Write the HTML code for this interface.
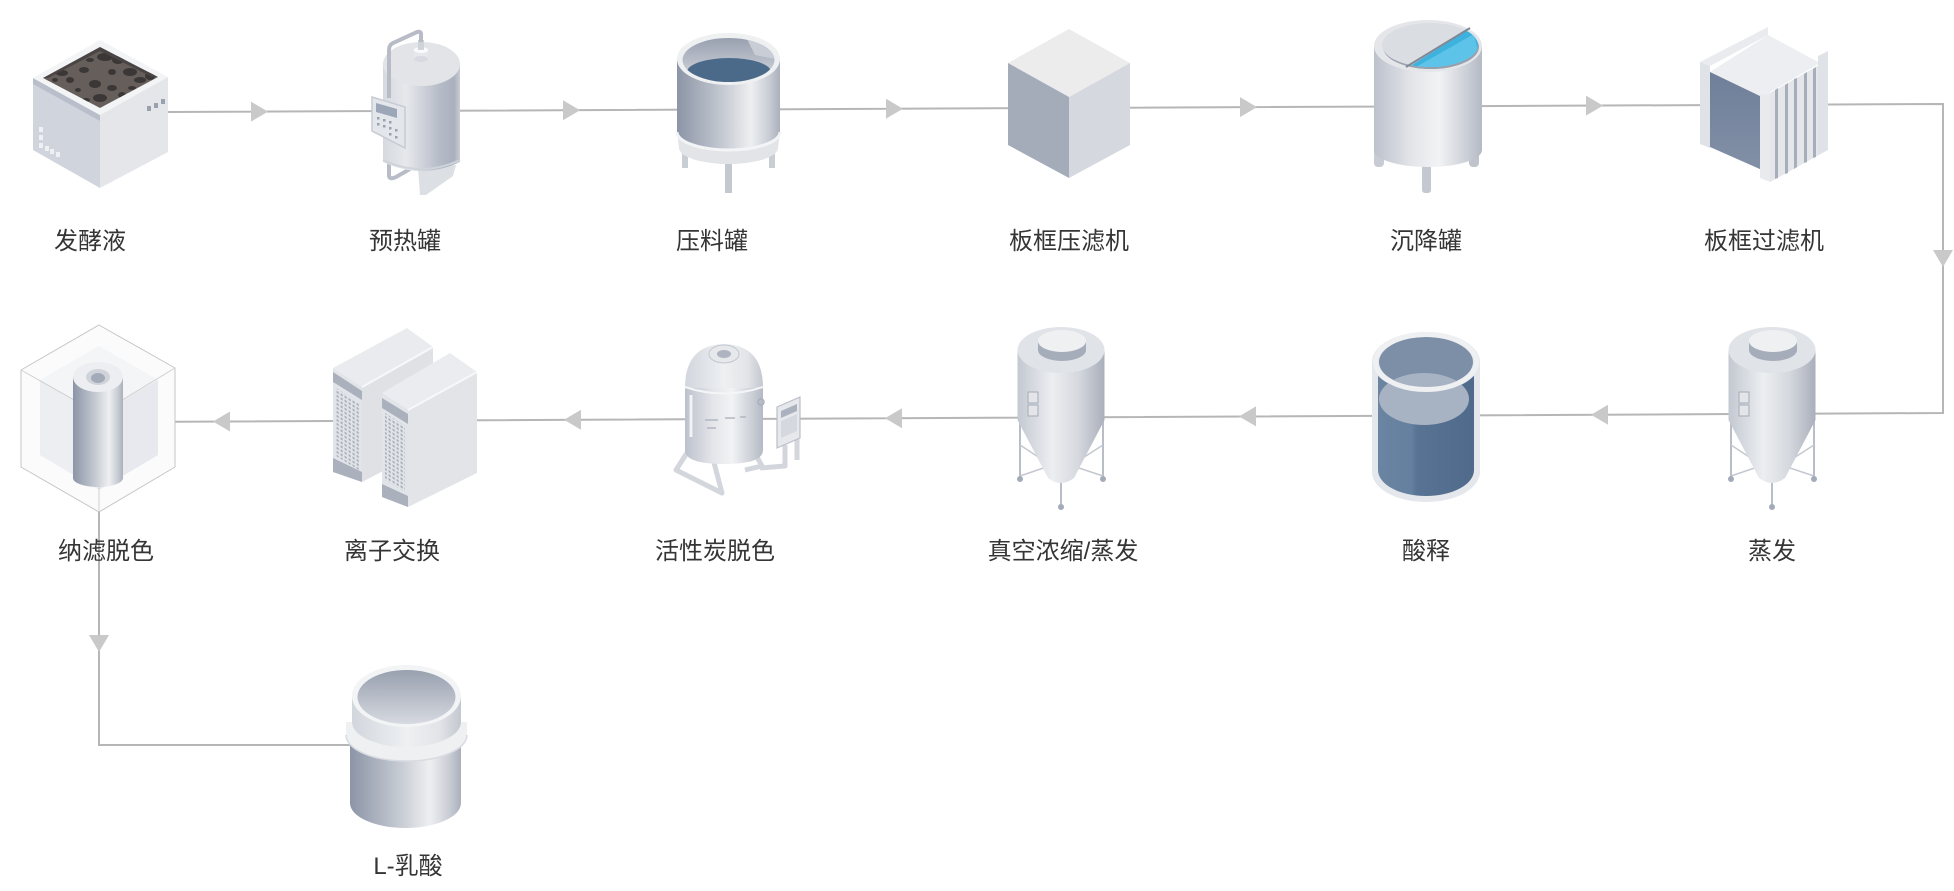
<!DOCTYPE html>
<html><head><meta charset="utf-8"><style>
html,body{margin:0;padding:0;background:#fff;}
svg{display:block;}
text{font-family:"Liberation Sans","Noto Sans CJK SC",sans-serif;font-size:24px;fill:#353535;text-anchor:middle;}
</style></head><body>
<svg width="1954" height="891" viewBox="0 0 1954 891" xmlns="http://www.w3.org/2000/svg">
<defs>
<linearGradient id="gM" x1="0" x2="1" y1="0" y2="0">
<stop offset="0" stop-color="#bcc1cc"/><stop offset="0.35" stop-color="#e3e5e9"/><stop offset="0.6" stop-color="#f2f3f5"/><stop offset="0.85" stop-color="#ccd0d7"/><stop offset="1" stop-color="#b4b9c4"/>
</linearGradient>
<linearGradient id="gD" x1="0" x2="1" y1="0" y2="0">
<stop offset="0" stop-color="#8c95a7"/><stop offset="0.45" stop-color="#c6cbd3"/><stop offset="0.72" stop-color="#eeeff1"/><stop offset="0.9" stop-color="#c7cbd3"/><stop offset="1" stop-color="#aab0bc"/>
</linearGradient>
<linearGradient id="gT" x1="0" x2="1" y1="0" y2="0">
<stop offset="0" stop-color="#d6d9df"/><stop offset="0.3" stop-color="#e6e8ec"/><stop offset="0.75" stop-color="#b4bac6"/><stop offset="0.92" stop-color="#aab0bd"/><stop offset="1" stop-color="#c8ccd4"/>
</linearGradient>
<linearGradient id="gS" x1="0" x2="1" y1="0" y2="0">
<stop offset="0" stop-color="#c3c8d1"/><stop offset="0.4" stop-color="#eceef1"/><stop offset="0.7" stop-color="#d5d8de"/><stop offset="1" stop-color="#a9afbb"/>
</linearGradient>
<linearGradient id="gL" x1="0" x2="1" y1="0" y2="0">
<stop offset="0" stop-color="#d2d6dd"/><stop offset="0.5" stop-color="#eef0f2"/><stop offset="0.8" stop-color="#e2e4e8"/><stop offset="1" stop-color="#c3c7cf"/>
</linearGradient>
<linearGradient id="gIn" x1="0" x2="0" y1="0" y2="1">
<stop offset="0" stop-color="#98a0af"/><stop offset="1" stop-color="#d6d9e0"/>
</linearGradient>
<linearGradient id="gBlue" x1="0" x2="1" y1="0" y2="0">
<stop offset="0" stop-color="#6a84a1"/><stop offset="0.35" stop-color="#6580a0"/><stop offset="0.4" stop-color="#587393"/><stop offset="1" stop-color="#4f6a8a"/>
</linearGradient>
<linearGradient id="gFace" x1="0" x2="0" y1="0" y2="1">
<stop offset="0" stop-color="#6f7f99"/><stop offset="1" stop-color="#8290a7"/>
</linearGradient>
<pattern id="dots" width="4" height="4" patternUnits="userSpaceOnUse" patternTransform="skewY(31)">
<rect x="0.5" y="0.5" width="2.2" height="2.2" fill="#aab0bc"/>
</pattern>
<clipPath id="c1"><polygon points="100,47 158,77 100,108 43,78"/></clipPath>
<clipPath id="c2"><ellipse cx="728.5" cy="60" rx="46" ry="22"/></clipPath>
<clipPath id="c3"><ellipse cx="1430" cy="45" rx="48" ry="22"/></clipPath>
<clipPath id="c4"><path d="M1378,362 L1378,470 A48,26 0 0 0 1474,470 L1474,362 Z"/></clipPath>
</defs>

<!-- connectors -->
<g fill="none" stroke="#b6b6b6" stroke-width="2">
<polyline points="168,112 1943,104 1943,413 123,422"/>
<polyline points="99,485 99,745 350,745"/>
</g>
<g fill="#c9c9c9">
<polygon points="251,101.6 268,111.6 251,121.6"/>
<polygon points="563,100.2 580,110.2 563,120.2"/>
<polygon points="886,98.7 903,108.7 886,118.7"/>
<polygon points="1240,97.1 1257,107.1 1240,117.1"/>
<polygon points="1586,95.6 1603,105.6 1586,115.6"/>
<polygon points="1933,250 1953,250 1943,267"/>
<polygon points="1608,404.7 1591,414.7 1608,424.7"/>
<polygon points="1256,406.4 1239,416.4 1256,426.4"/>
<polygon points="902,408.2 885,418.2 902,428.2"/>
<polygon points="581,409.8 564,419.8 581,429.8"/>
<polygon points="230,411.5 213,421.5 230,431.5"/>
<polygon points="89,635 109,635 99,652"/>
</g>

<!-- 发酵液 -->
<polygon points="33,78 100,115 100,188 33,150" fill="#d0d4dc"/>
<polygon points="33,78 100,115 100,121 33,84" fill="#b9bfca"/>
<polygon points="100,115 168,77 168,152 100,188" fill="#e4e6ea"/>
<polygon points="100,40 168,77 100,115 33,78" fill="#f3f4f6"/>
<polygon points="100,47 158,77 100,108 43,78" fill="#665e5a"/>
<g clip-path="url(#c1)" fill="#3b3737">
<ellipse cx="105" cy="57" rx="8" ry="4"/><ellipse cx="118" cy="60" rx="6" ry="4"/>
<ellipse cx="84" cy="70" rx="5" ry="3"/><ellipse cx="130" cy="72" rx="7" ry="4"/>
<ellipse cx="95" cy="84" rx="6" ry="4"/><ellipse cx="112" cy="88" rx="5" ry="3"/>
<ellipse cx="140" cy="80" rx="6" ry="3"/><ellipse cx="70" cy="80" rx="4" ry="3"/>
<ellipse cx="100" cy="98" rx="7" ry="4"/><ellipse cx="122" cy="95" rx="4" ry="3"/>
<ellipse cx="62" cy="73" rx="6" ry="3"/><ellipse cx="150" cy="76" rx="5" ry="4"/>
<ellipse cx="90" cy="60" rx="4" ry="2"/><ellipse cx="78" cy="90" rx="3" ry="2"/>
<ellipse cx="112" cy="72" rx="4" ry="3"/><ellipse cx="86" cy="100" rx="4" ry="2"/>
<ellipse cx="132" cy="88" rx="4" ry="2"/><ellipse cx="55" cy="80" rx="3" ry="2"/>
<polygon points="100,47 158,77 152,77 100,51 48,78 43,78" fill="#4a4544"/>
</g>
<g fill="#eef0f3">
<rect x="39" y="127" width="4" height="5"/><rect x="39" y="135" width="4" height="5"/>
<rect x="39" y="143" width="4" height="5"/><rect x="45" y="146" width="4" height="5"/>
<rect x="50" y="149" width="4" height="5"/><rect x="56" y="152" width="4" height="5"/>
</g>
<g fill="#9aa1ae">
<rect x="147" y="106" width="4" height="5"/><rect x="154" y="103" width="4" height="5"/><rect x="161" y="99" width="4" height="5"/>
</g>

<!-- 预热罐 -->
<path d="M389,163 L389,176 Q390,180 396,177 L410,169" fill="none" stroke="#b7bcc7" stroke-width="4"/>
<polygon points="418,168 456,165 453,176 426,195 420,195" fill="#dcdfe4"/>
<path d="M383,64 L383,162 Q421.5,180 460,162 L460,64 Z" fill="url(#gT)"/>
<ellipse cx="421.5" cy="64" rx="38.5" ry="22" fill="#e2e4e8"/>
<path d="M383,160 Q421.5,178 460,160" fill="none" stroke="#cfd3da" stroke-width="2"/>
<rect x="414" y="50" width="14" height="9" fill="#e6e8eb"/>
<ellipse cx="421" cy="59" rx="7" ry="3" fill="#d7dae0"/>
<ellipse cx="421" cy="50" rx="7" ry="3" fill="#fafafb"/>
<rect x="418" y="40" width="6" height="10" fill="#cfd3da"/>
<path d="M421,42 L421,34 Q421,31 417,32 L393,43 Q389,45 389,50 L389,98" fill="none" stroke="#b7bcc7" stroke-width="4"/>
<polygon points="372,97 405,107 405,148 372,131" fill="#e3e6ea" stroke="#c7cbd3" stroke-width="1.5"/>
<polygon points="376,103 397,109 397,118 376,112" fill="#9ba7b9"/>
<g fill="#9aa1ae">
<rect x="377" y="117" width="2.5" height="2.5"/><rect x="383" y="119" width="2.5" height="2.5"/><rect x="389" y="121" width="2.5" height="2.5"/>
<rect x="377" y="123" width="2.5" height="2.5"/><rect x="383" y="125" width="2.5" height="2.5"/><rect x="389" y="127" width="2.5" height="2.5"/>
<rect x="395" y="129" width="2.5" height="2.5"/><rect x="389" y="133" width="2.5" height="2.5"/><rect x="395" y="136" width="2.5" height="2.5"/>
</g>

<!-- 压料罐 -->
<rect x="682" y="140" width="6" height="28" fill="#c9cdd4"/>
<rect x="769" y="140" width="6" height="28" fill="#c9cdd4"/>
<rect x="725" y="150" width="7" height="43" fill="#c4c8d0"/>
<path d="M677,132 L679,148 A49.5,16 0 0 0 778,148 L780,132 A51.5,18 0 0 1 677,132 Z" fill="#e2e4e8"/>
<path d="M677,59 L677,132 A51.5,18 0 0 0 780,132 L780,59 Z" fill="url(#gD)"/>
<path d="M677,132 A51.5,18 0 0 0 780,132" fill="none" stroke="#f3f4f6" stroke-width="3"/>
<ellipse cx="728.5" cy="59" rx="51.5" ry="26" fill="#eef0f2"/>
<ellipse cx="728.5" cy="60" rx="46" ry="22" fill="url(#gIn)"/>
<g clip-path="url(#c2)">
<polygon points="745,35 780,35 780,60 755,55" fill="#c9cdd5"/>
<ellipse cx="729" cy="72" rx="42" ry="14" fill="#4b6a89"/>
</g>

<!-- 板框压滤机 -->
<polygon points="1069,29 1130,63 1069,97 1008,63" fill="#ececec"/>
<polygon points="1008,63 1069,97 1069,178 1008,145" fill="#a4acba"/>
<polygon points="1069,97 1130,63 1130,145 1069,178" fill="#d5d8de"/>

<!-- 沉降罐 -->
<rect x="1374" y="145" width="10" height="22" rx="4" fill="#c7cbd3"/>
<rect x="1469" y="145" width="10" height="22" rx="4" fill="#bfc4cc"/>
<rect x="1422" y="160" width="9" height="33" rx="3" fill="#c4c8d0"/>
<path d="M1374,46 L1374,150 A54,17 0 0 0 1482,150 L1482,46 Z" fill="url(#gM)"/>
<ellipse cx="1428" cy="46" rx="54" ry="26" fill="#e4e6ea"/>
<ellipse cx="1431" cy="47" rx="48" ry="22" fill="#98a0ad"/>
<ellipse cx="1430" cy="45" rx="48" ry="22" fill="#dadde2"/>
<g clip-path="url(#c3)">
<polygon points="1404,70 1474,26 1490,80" fill="#3db2de"/>
<polygon points="1414,68 1474,34 1482,70" fill="#5dc3e8"/>
</g>
<line x1="1406" y1="67" x2="1470" y2="28" stroke="#7f8896" stroke-width="2"/>

<!-- 板框过滤机 -->
<polygon points="1700,62 1768,27 1768,35 1710,66" fill="#e9ebee"/>
<polygon points="1700,62 1710,66 1710,148 1700,144" fill="#dfe2e7"/>
<polygon points="1710,72 1768,35 1820,63 1762,97" fill="#eceef1"/>
<polygon points="1710,72 1762,97 1762,170 1710,147" fill="url(#gFace)"/>
<polygon points="1760,95 1770,93 1770,182 1760,178" fill="#e8eaee"/>
<polygon points="1770,93 1828,60 1828,150 1770,182" fill="#e4e6ea"/>
<g fill="#a7aebb">
<polygon points="1775,90 1778,88 1778,178 1775,179"/>
<polygon points="1785,85 1788,83 1788,173 1785,174"/>
<polygon points="1794,79 1797,78 1797,167 1794,169"/>
<polygon points="1804,74 1807,72 1807,162 1804,163"/>
<polygon points="1813,69 1816,67 1816,157 1813,158"/>
</g>
<polygon points="1818,56 1828,51 1828,150 1818,154" fill="#dfe2e7"/>

<!-- 蒸发 silo -->
<g>
<line x1="1731" y1="420" x2="1731" y2="478" stroke="#b8bdc7" stroke-width="2"/>
<line x1="1814" y1="420" x2="1814" y2="478" stroke="#b8bdc7" stroke-width="2"/>
<line x1="1772" y1="470" x2="1772" y2="505" stroke="#b8bdc7" stroke-width="2"/>
<polyline points="1731,445 1772,472 1814,445" fill="none" stroke="#c3c7cf" stroke-width="1.5"/>
<polyline points="1731,476 1772,462 1814,476" fill="none" stroke="#c3c7cf" stroke-width="1.5"/>
<circle cx="1731" cy="479" r="3" fill="#a4abb8"/><circle cx="1814" cy="479" r="3" fill="#a4abb8"/><circle cx="1772" cy="507" r="3" fill="#a4abb8"/>
<path d="M1728.5,350 L1728.5,420 L1759,478 Q1772,488 1785,478 L1815.5,420 L1815.5,350 Z" fill="url(#gS)"/>
<ellipse cx="1772" cy="350" rx="43.5" ry="23" fill="#e0e3e7"/>
<path d="M1749,341 L1749,350 A24,11 0 0 0 1797,350 L1797,341 Z" fill="#a6adba"/>
<ellipse cx="1773" cy="341" rx="24" ry="11" fill="#eef0f2"/>
<rect x="1739" y="392" width="10" height="11" fill="#e3e5e9" stroke="#a4abb8" stroke-width="1"/>
<rect x="1739" y="405" width="10" height="11" fill="#e3e5e9" stroke="#a4abb8" stroke-width="1"/>
</g>
<!-- 真空浓缩 silo -->
<g transform="translate(-711,0)">
<line x1="1731" y1="420" x2="1731" y2="478" stroke="#b8bdc7" stroke-width="2"/>
<line x1="1814" y1="420" x2="1814" y2="478" stroke="#b8bdc7" stroke-width="2"/>
<line x1="1772" y1="470" x2="1772" y2="505" stroke="#b8bdc7" stroke-width="2"/>
<polyline points="1731,445 1772,472 1814,445" fill="none" stroke="#c3c7cf" stroke-width="1.5"/>
<polyline points="1731,476 1772,462 1814,476" fill="none" stroke="#c3c7cf" stroke-width="1.5"/>
<circle cx="1731" cy="479" r="3" fill="#a4abb8"/><circle cx="1814" cy="479" r="3" fill="#a4abb8"/><circle cx="1772" cy="507" r="3" fill="#a4abb8"/>
<path d="M1728.5,350 L1728.5,420 L1759,478 Q1772,488 1785,478 L1815.5,420 L1815.5,350 Z" fill="url(#gS)"/>
<ellipse cx="1772" cy="350" rx="43.5" ry="23" fill="#e0e3e7"/>
<path d="M1749,341 L1749,350 A24,11 0 0 0 1797,350 L1797,341 Z" fill="#a6adba"/>
<ellipse cx="1773" cy="341" rx="24" ry="11" fill="#eef0f2"/>
<rect x="1739" y="392" width="10" height="11" fill="#e3e5e9" stroke="#a4abb8" stroke-width="1"/>
<rect x="1739" y="405" width="10" height="11" fill="#e3e5e9" stroke="#a4abb8" stroke-width="1"/>
</g>

<!-- 酸释 -->
<path d="M1372,362 L1372,472 A54,30 0 0 0 1480,472 L1480,362 Z" fill="#e4e7eb"/>
<path d="M1378,362 L1378,470 A48,26 0 0 0 1474,470 L1474,362 Z" fill="url(#gBlue)"/>
<ellipse cx="1426" cy="362" rx="54" ry="30" fill="#e4e7eb"/>
<ellipse cx="1426" cy="362" rx="47" ry="25" fill="#7d8fa7"/>
<g clip-path="url(#c4)">
<ellipse cx="1424" cy="399" rx="45" ry="26" fill="#a7b2c2"/>
</g>
<ellipse cx="1426" cy="362" rx="50.5" ry="27.5" fill="none" stroke="#eef0f2" stroke-width="5"/>

<!-- 活性炭脱色 -->
<g fill="none" stroke="#d3d6dc" stroke-width="5" stroke-linejoin="round">
<polyline points="692,445 676,470 722,493 712,455"/>
<polyline points="752,448 762,466 745,470"/>
<polyline points="785,445 785,466 760,468"/>
<line x1="797" y1="438" x2="797" y2="460"/>
</g>
<path d="M685,387 L685,450 Q685,464 724,464 Q763,464 763,450 L763,387 Z" fill="url(#gM)"/>
<path d="M685,388 Q685,345 724,344 Q763,345 763,388 Z" fill="url(#gL)"/>
<path d="M685,387 Q724,400 763,387" fill="none" stroke="#f4f5f7" stroke-width="2"/>
<ellipse cx="724" cy="354" rx="15" ry="9" fill="#e6e8ec" stroke="#c2c7cf" stroke-width="1"/>
<ellipse cx="724" cy="354" rx="7" ry="4" fill="#aeb4c0"/>
<line x1="691" y1="395" x2="691" y2="437" stroke="#f2f3f5" stroke-width="3"/>
<circle cx="761" cy="402" r="3" fill="none" stroke="#a9afbb" stroke-width="1.5"/>
<g stroke="#b1b7c2" stroke-width="1.5"><line x1="705" y1="420" x2="718" y2="420"/><line x1="725" y1="418" x2="735" y2="418"/><line x1="740" y1="417" x2="746" y2="417"/><line x1="707" y1="428" x2="716" y2="428"/></g>
<polygon points="777,407 800,397 800,438 777,448" fill="#e6e8ec" stroke="#b9bec8" stroke-width="1.2"/>
<polygon points="781,411 797,404 797,411 781,418" fill="#aab2c0"/>
<polygon points="781,421 797,414 797,431 781,438" fill="#d5d9df"/>

<!-- 离子交换 -->
<polygon points="333,368 407,328 433,347 362,387" fill="#e9ebee"/>
<polygon points="362,387 433,347 433,445 362,482" fill="#dfe1e5"/>
<polygon points="333,368 362,387 362,482 333,472" fill="#e1e4e8"/>
<polygon points="333,372 362,391 362,400 333,382" fill="#aab1bd"/>
<polygon points="333,458 362,472 362,482 333,472" fill="#aab1bd"/>
<polygon points="336,388 359,403 359,470 336,456" fill="url(#dots)"/>
<polygon points="382,393 450,353 477,372 408,410" fill="#eaecef"/>
<polygon points="408,410 477,372 477,473 408,507" fill="#e2e4e8"/>
<polygon points="382,393 408,410 408,507 382,497" fill="#e1e4e8"/>
<polygon points="382,398 408,414 408,424 382,408" fill="#aab1bd"/>
<polygon points="382,484 408,496 408,507 382,497" fill="#aab1bd"/>
<polygon points="385,413 405,426 405,492 385,480" fill="url(#dots)"/>
<line x1="408" y1="410" x2="477" y2="372" stroke="#f7f8f9" stroke-width="2"/>
<line x1="362" y1="387" x2="433" y2="347" stroke="#f7f8f9" stroke-width="2"/>

<!-- 纳滤脱色 -->
<polygon points="99,325 175,368 175,467 99,512 21,467 21,370" fill="#fbfbfc" stroke="#c6c6c6" stroke-width="1"/>
<polygon points="99,346 158,380 158,455 99,490 40,455 40,380" fill="#eceef2"/>
<polygon points="99,346 158,380 99,414 40,380" fill="#f4f5f7"/>
<polygon points="99,414 158,380 158,455 99,490" fill="#e7e9ee"/>
<g stroke="#d0d0d0" stroke-width="1" fill="none"><polyline points="21,370 99,414 175,368"/><line x1="99" y1="414" x2="99" y2="512"/></g>
<path d="M73,377 L73,478 A25,9 0 0 0 123,478 L123,377 Z" fill="url(#gD)"/>
<ellipse cx="98" cy="377" rx="25" ry="15" fill="#eceef1"/>
<ellipse cx="98" cy="377" rx="12" ry="8" fill="#d0d4da"/>
<ellipse cx="98" cy="378" rx="7" ry="5" fill="#a4abb8"/>

<!-- L-乳酸 -->
<path d="M350,735 L350,803 A55.5,25 0 0 0 461,803 L461,735 Z" fill="url(#gD)"/>
<path d="M346,722 L346,735 A60.5,26 0 0 0 467,735 L467,722 Z" fill="#eef0f2"/>
<path d="M346,735 A60.5,26 0 0 0 467,735" fill="none" stroke="#d8dbe0" stroke-width="1.5"/>
<path d="M352,696 L352,722 A54.5,25 0 0 0 461,722 L461,696 Z" fill="url(#gL)"/>
<ellipse cx="406.5" cy="696" rx="54.5" ry="31" fill="#f3f4f6"/>
<ellipse cx="406.5" cy="697" rx="49" ry="27" fill="url(#gIn)"/>

<!-- labels -->
<text x="90" y="249">发酵液</text>
<text x="405" y="249">预热罐</text>
<text x="712" y="249">压料罐</text>
<text x="1069" y="249">板框压滤机</text>
<text x="1426" y="249">沉降罐</text>
<text x="1764" y="249">板框过滤机</text>
<text x="106" y="559">纳滤脱色</text>
<text x="392" y="559">离子交换</text>
<text x="715" y="559">活性炭脱色</text>
<text x="1063" y="559">真空浓缩/蒸发</text>
<text x="1426" y="559">酸释</text>
<text x="1772" y="559">蒸发</text>
<text x="408" y="874">L-乳酸</text>
</svg>
</body></html>
